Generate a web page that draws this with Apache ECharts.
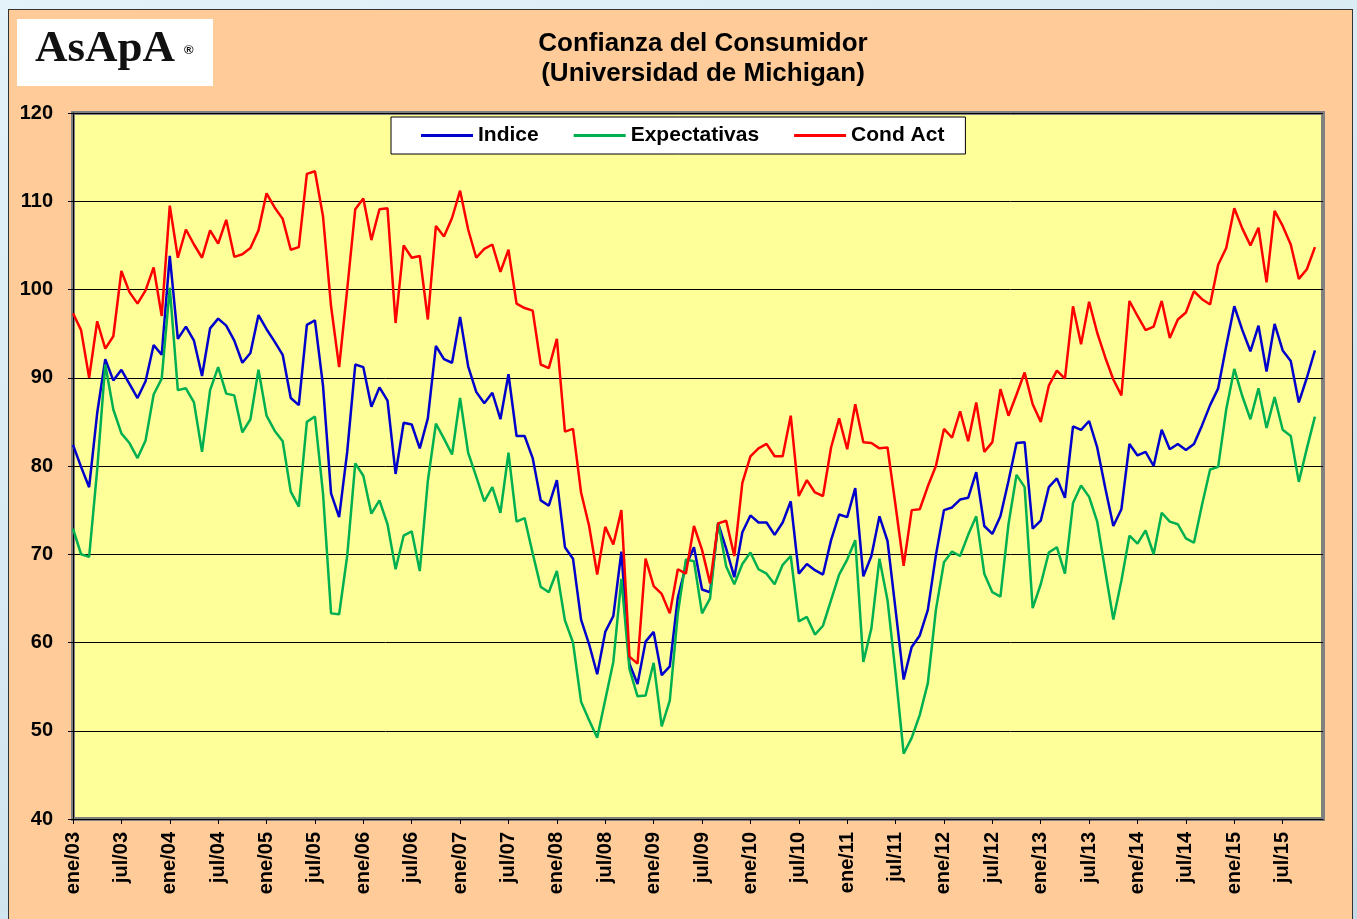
<!DOCTYPE html>
<html>
<head>
<meta charset="utf-8">
<script src="https://cdn.jsdelivr.net/npm/echarts@6/dist/echarts.min.js"></script>
<style>
  html, body { margin:0; padding:0; width:1357px; height:919px; overflow:hidden;
    background: linear-gradient(160deg, #E4F2F9 0%, #D2E6F0 60%, #C4DAE6 100%); }
  #panel { position:absolute; left:8px; top:9px; width:1345px; height:925px;
    background:#FFCC99; border:1.5px solid #333; box-sizing:border-box; }
  #chart { position:absolute; left:0; top:0; width:1357px; height:919px; }
</style>
</head>
<body>
<div id="panel"></div>
<div id="chart"></div>
<script>
// Month labels and years (category axis: ene/03 .. dic/15)
const months = ['ene','feb','mar','abr','may','jun','jul','ago','sep','oct','nov','dic'];
const years = ['03','04','05','06','07','08','09','10','11','12','13','14','15'];
const yTicks = [40, 50, 60, 70, 80, 90, 100, 110, 120];

// Indice (monthly, ene/03 .. nov/15)
const indice = [
  82.4, 79.9, 77.6, 86.0, 92.1, 89.7, 90.9, 89.3, 87.7, 89.6, 93.7, 92.6,
  103.8, 94.4, 95.8, 94.2, 90.2, 95.6, 96.7, 95.9, 94.2, 91.7, 92.8, 97.1,
  95.5, 94.1, 92.6, 87.7, 86.9, 96.0, 96.5, 89.1, 76.9, 74.2, 81.6, 91.5,
  91.2, 86.7, 88.9, 87.4, 79.1, 84.9, 84.7, 82.0, 85.4, 93.6, 92.1, 91.7,
  96.9, 91.3, 88.4, 87.1, 88.3, 85.3, 90.4, 83.4, 83.4, 80.9, 76.1, 75.5,
  78.4, 70.8, 69.5, 62.6, 59.8, 56.4, 61.2, 63.0, 70.3, 57.6, 55.3, 60.1,
  61.2, 56.3, 57.3, 65.1, 68.7, 70.8, 66.0, 65.7, 73.5, 70.6, 67.4, 72.5,
  74.4, 73.6, 73.6, 72.2, 73.6, 76.0, 67.8, 68.9, 68.2, 67.7, 71.6, 74.5,
  74.2, 77.5, 67.5, 69.8, 74.3, 71.5, 63.7, 55.8, 59.5, 60.8, 63.7, 69.9,
  75.0, 75.3, 76.2, 76.4, 79.3, 73.2, 72.3, 74.3, 78.3, 82.6, 82.7, 72.9,
  73.8, 77.6, 78.6, 76.4, 84.5, 84.1, 85.1, 82.1, 77.5, 73.2, 75.1, 82.5,
  81.2, 81.6, 80.0, 84.1, 81.9, 82.5, 81.8, 82.5, 84.6, 86.9, 88.8, 93.6,
  98.1, 95.4, 93.0, 95.9, 90.7, 96.1, 93.1, 91.9, 87.2, 90.0, 93.1
];

// Expectativas
const expectativas = [
  72.9, 70.0, 69.7, 79.6, 91.5, 86.4, 83.7, 82.6, 80.9, 82.9, 88.1, 89.9,
  100.2, 88.6, 88.8, 87.2, 81.6, 88.6, 91.2, 88.2, 88.0, 83.8, 85.3, 90.9,
  85.7, 84.0, 82.8, 77.1, 75.4, 85.0, 85.6, 76.9, 63.3, 63.2, 69.8, 80.3,
  78.9, 74.6, 76.1, 73.4, 68.3, 72.1, 72.6, 68.1, 78.3, 84.8, 83.1, 81.3,
  87.7, 81.5, 78.8, 76.0, 77.6, 74.7, 81.5, 73.7, 74.1, 70.1, 66.3, 65.7,
  68.1, 62.5, 60.0, 53.3, 51.2, 49.2, 53.5, 57.8, 67.2, 57.0, 53.9, 54.0,
  57.7, 50.5, 53.4, 63.3, 69.4, 69.2, 63.3, 65.0, 73.6, 68.6, 66.6, 68.9,
  70.2, 68.3, 67.8, 66.6, 68.8, 69.8, 62.4, 62.9, 60.9, 61.9, 64.8, 67.7,
  69.4, 71.6, 57.8, 61.6, 69.5, 64.8, 56.5, 47.4, 49.2, 51.8, 55.4, 63.7,
  69.1, 70.3, 69.8, 72.2, 74.3, 67.8, 65.7, 65.2, 73.4, 79.0, 77.6, 63.9,
  66.6, 70.2, 70.8, 67.8, 75.8, 77.8, 76.5, 73.7, 68.1, 62.6, 67.0, 72.1,
  71.2, 72.7, 70.0, 74.7, 73.7, 73.4, 71.8, 71.3, 75.6, 79.6, 79.9, 86.4,
  91.0, 87.9, 85.3, 88.8, 84.3, 87.8, 84.1, 83.4, 78.2, 82.0, 85.6
];

// Cond Act
const condAct = [
  97.3, 95.4, 90.0, 96.4, 93.3, 94.7, 102.1, 99.7, 98.4, 99.9, 102.5, 97.0,
  109.5, 103.6, 106.8, 105.1, 103.6, 106.7, 105.2, 107.9, 103.7, 104.0, 104.7, 106.7,
  110.9, 109.3, 108.0, 104.5, 104.8, 113.1, 113.4, 108.3, 98.1, 91.2, 100.0, 109.1,
  110.3, 105.6, 109.1, 109.2, 96.2, 105.0, 103.6, 103.8, 96.6, 107.2, 106.0, 108.1,
  111.2, 106.8, 103.6, 104.6, 105.1, 102.0, 104.5, 98.4, 97.9, 97.6, 91.5, 91.1,
  94.4, 83.9, 84.2, 77.0, 73.2, 67.7, 73.1, 71.1, 75.0, 58.4, 57.6, 69.5,
  66.4, 65.5, 63.3, 68.3, 67.8, 73.2, 70.5, 66.7, 73.5, 73.8, 69.8, 78.1,
  81.1, 82.0, 82.5, 81.1, 81.1, 85.7, 76.6, 78.4, 77.0, 76.6, 82.1, 85.4,
  81.9, 87.0, 82.7, 82.6, 82.0, 82.1, 75.5, 68.7, 75.0, 75.1, 77.7, 80.0,
  84.2, 83.2, 86.2, 82.8, 87.2, 81.6, 82.7, 88.7, 85.7, 88.1, 90.6, 87.0,
  85.0, 89.1, 90.8, 89.9, 98.1, 93.8, 98.6, 95.1, 92.3, 89.8, 88.0, 98.7,
  97.0, 95.4, 95.8, 98.7, 94.5, 96.6, 97.4, 99.8, 98.9, 98.3, 102.8, 104.7,
  109.2, 106.9, 105.0, 107.0, 100.8, 108.9, 107.2, 105.1, 101.2, 102.3, 104.8
];

const categories = [];
years.forEach(y => months.forEach(m => categories.push(m + '/' + y)));

const chart = echarts.init(document.getElementById('chart'), null, { renderer: 'canvas' });
const FONT = '"Liberation Sans", Arial, sans-serif';

chart.setOption({
  backgroundColor: 'transparent',
  animation: false,
  graphic: [
    { type: 'rect', shape: { x: 17, y: 19, width: 196, height: 67 }, style: { fill: '#ffffff' } },
    { type: 'text', style: { x: 35, y: 49, text: 'AsApA', font: 'bold 45px "Liberation Serif", "Times New Roman", serif', fill: '#111', textVerticalAlign: 'middle' } },
    { type: 'text', style: { x: 184, y: 50, text: '®', font: 'bold 13px "Liberation Sans", Arial, sans-serif', fill: '#111', textVerticalAlign: 'middle' } },
    { type: 'text', style: { x: 703, y: 44, text: 'Confianza del Consumidor', font: 'bold 26px ' + FONT, fill: '#000', textAlign: 'center', textVerticalAlign: 'middle' } },
    { type: 'text', style: { x: 703, y: 74, text: '(Universidad de Michigan)', font: 'bold 26px ' + FONT, fill: '#000', textAlign: 'center', textVerticalAlign: 'middle' } }
  ],
  legend: {
    left: 391, top: 117,
    data: ['Indice', 'Expectativas', 'Cond Act'],
    icon: 'rect', itemWidth: 52, itemHeight: 3, itemGap: 35,
    padding: [8, 21, 8, 30],
    backgroundColor: '#ffffff', borderColor: '#000', borderWidth: 1, borderRadius: 0,
    selectedMode: false,
    textStyle: { fontFamily: FONT, fontWeight: 'bold', fontSize: 21, color: '#000', padding: [0, 0, 0, 0] }
  },
  grid: {
    left: 73, top: 113, right: 34, bottom: 100,
    show: true, backgroundColor: '#FFFF99', borderColor: '#808080', borderWidth: 4,
    containLabel: false
  },
  xAxis: {
    type: 'category', data: categories, boundaryGap: false,
    axisLine: { show: true, lineStyle: { color: '#000', width: 1 } },
    axisTick: { show: true, interval: 5, length: 5, lineStyle: { color: '#000' } },
    axisLabel: { interval: 5, rotate: 90, margin: 13, fontFamily: FONT, fontWeight: 'bold', fontSize: 20, color: '#000' },
    splitLine: { show: false }
  },
  yAxis: {
    type: 'value', min: yTicks[0], max: yTicks[yTicks.length - 1], interval: 10,
    axisLine: { show: true, lineStyle: { color: '#000', width: 1 } },
    axisTick: { show: true, length: 5, lineStyle: { color: '#000' } },
    axisLabel: { margin: 20, fontFamily: FONT, fontWeight: 'bold', fontSize: 20, color: '#000' },
    splitLine: { show: true, lineStyle: { color: '#000', width: 1 } }
  },
  series: [
    { name: 'Indice', type: 'line', data: indice, symbol: 'none', smooth: false,
      lineStyle: { color: '#0000CC', width: 2.5 }, itemStyle: { color: '#0000CC' } },
    { name: 'Expectativas', type: 'line', data: expectativas, symbol: 'none', smooth: false,
      lineStyle: { color: '#00B050', width: 2.5 }, itemStyle: { color: '#00B050' } },
    { name: 'Cond Act', type: 'line', data: condAct, symbol: 'none', smooth: false,
      lineStyle: { color: '#FF0000', width: 2.5 }, itemStyle: { color: '#FF0000' } }
  ]
});
</script>
</body>
</html>
